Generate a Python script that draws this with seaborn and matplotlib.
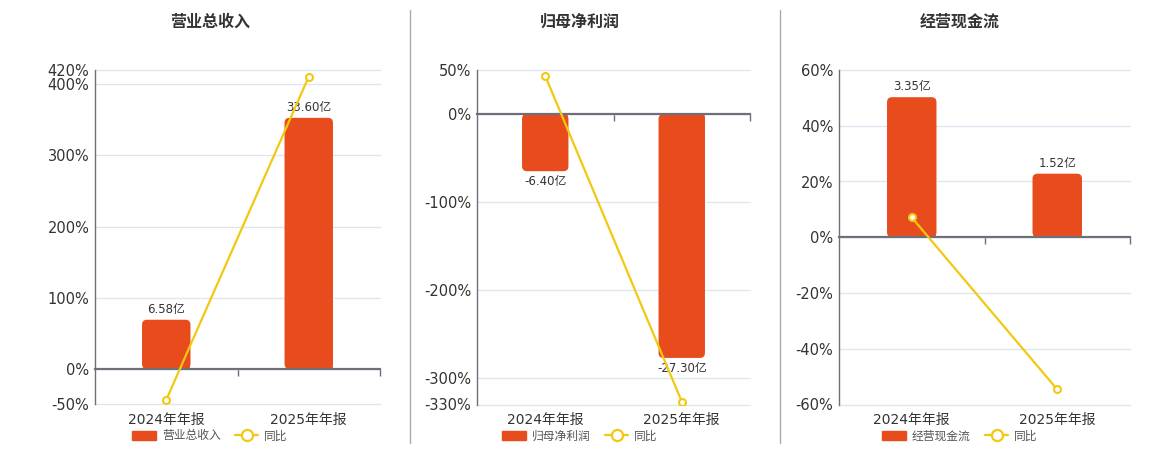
import numpy as np
import seaborn as sns
import matplotlib
matplotlib.use("Agg")
import matplotlib.pyplot as plt
from matplotlib.lines import Line2D
from matplotlib.patches import Patch, FancyBboxPatch
from matplotlib.ticker import FuncFormatter

periods = ["2024年年报", "2025年年报"]

revenue = [6.58, 33.60]          # 亿
revenue_yoy = [-43.5, 410.6]     # %
profit = [-6.40, -27.30]
profit_yoy = [43.2, -326.6]
cashflow = [3.35, 1.52]
cashflow_yoy = [7.1, -54.6]

titles = ["营业总收入", "归母净利润", "经营现金流"]

BAR = "#E84C1D"
LINE = "#F2C811"
AXIS = "#6E7079"
GRID = "#E0E6F1"
TXT = "#333333"

sns.set_theme(style="white")
plt.rcParams["font.family"] = ["DejaVu Sans", "Noto Sans CJK SC"]

fig = plt.figure(figsize=(11.6, 4.5), dpi=100)

# panel layout in pixels: (left, right, title/legend centre), y-limits, ticks, %-per-亿
panels = [
    dict(vals=revenue, yoy=revenue_yoy, box=(95, 380, 210), lim=(-50, 420),
         ticks=[-50, 0, 100, 200, 300, 400, 420], k=10.5),
    dict(vals=profit, yoy=profit_yoy, box=(477, 750, 580), lim=(-330, 50),
         ticks=[-330, -300, -200, -100, 0, 50], k=10.15),
    dict(vals=cashflow, yoy=cashflow_yoy, box=(839, 1130, 960), lim=(-60, 60),
         ticks=[-60, -40, -20, 0, 20, 40, 60], k=15.0),
]

W, H = 1160, 450
top_px, bot_px = 70, 404.5
radius_px = 5

for title, p in zip(titles, panels):
    l, r, c = p["box"]
    ax_bar = fig.add_axes([l / W, 1 - bot_px / H, (r - l) / W, (bot_px - top_px) / H])
    k = p["k"]
    lo, hi = p["lim"]

    sns.barplot(x=periods, y=p["vals"], ax=ax_bar, color=BAR, saturation=1,
                width=0.34, errorbar=None, zorder=3)
    ax_bar.set_ylim(lo / k, hi / k)
    ax_bar.set_xlim(-0.5, 1.5)
    ax_bar.set_yticks([t / k for t in p["ticks"]])
    ax_bar.yaxis.grid(True, color=GRID, lw=1)
    for gl in ax_bar.get_ygridlines():
        gl.set_clip_on(False)
    ax_bar.tick_params(axis="y", length=0, labelleft=False)
    ax_bar.bar_label(ax_bar.containers[0], labels=[f"{v:.2f}亿" for v in p["vals"]],
                     padding=3, fontsize=8.5, color=TXT)

    # rounded ends away from the zero line
    xpu = (r - l) / 2.0
    ypu = (bot_px - top_px) / ((hi - lo) / k)
    for rect in list(ax_bar.patches):
        x0, y0, w, h = rect.get_x(), rect.get_y(), rect.get_width(), rect.get_height()
        rb = FancyBboxPatch((x0, min(y0, y0 + h)), w, abs(h),
                            boxstyle=f"round,pad=0,rounding_size={radius_px / xpu}",
                            mutation_aspect=xpu / ypu, facecolor=BAR, edgecolor="none",
                            zorder=3)
        ax_bar.add_patch(rb)
        rect.set_height(h / 2)

    for s in ["left", "top", "right"]:
        ax_bar.spines[s].set_visible(False)
    ax_bar.spines["bottom"].set_position(("data", 0))
    ax_bar.spines["bottom"].set_color(AXIS)
    ax_bar.spines["bottom"].set_linewidth(1.6)
    ax_bar.spines["bottom"].set_zorder(4)
    ax_bar.set_xticks([0.5, 1.5], minor=True)
    ax_bar.tick_params(axis="x", which="major", length=0, labelbottom=False)
    ax_bar.tick_params(axis="x", which="minor", bottom=True, length=5, width=1, color=AXIS, direction="out")
    ax_bar.set_xlabel("")

    ax_line = ax_bar.twinx()
    sns.lineplot(x=np.arange(len(periods)), y=p["yoy"], ax=ax_line, color=LINE, lw=1.6,
                 marker="o", markersize=5, markerfacecolor="white", markeredgecolor=LINE,
                 markeredgewidth=1.5, sort=False, legend=False)
    ax_line.set_ylim(lo, hi)
    ax_line.set_xlim(-0.5, 1.5)
    ax_line.set_yticks(p["ticks"])
    ax_line.yaxis.tick_left()
    ax_line.yaxis.set_major_formatter(FuncFormatter(lambda v, _: f"{v:g}%"))
    ax_line.tick_params(axis="y", length=0, labelsize=10.5, labelcolor=TXT, pad=4)
    ax_line.xaxis.set_visible(True)
    ax_line.tick_params(axis="x", which="major", length=0, labelbottom=True,
                        labelsize=10, labelcolor=TXT, pad=6)
    ax_line.tick_params(axis="x", which="minor", length=0)
    for s in ["top", "right", "bottom"]:
        ax_line.spines[s].set_visible(False)
    ax_line.spines["left"].set_color(AXIS)
    ax_line.spines["left"].set_linewidth(1)
    ax_line.set_ylabel("")

    fig.text(c / W, 1 - 22 / H, title, ha="center", va="center", fontsize=11.5,
             fontweight="bold", color=TXT)

    handles = [Patch(facecolor=BAR, edgecolor=BAR),
               Line2D([], [], color=LINE, lw=1.6, marker="o", markersize=8,
                      markerfacecolor="white", markeredgecolor=LINE, markeredgewidth=1.6)]
    ax_line.legend(handles, [title, "同比"], loc="center", ncol=2, frameon=False,
                   bbox_to_anchor=(c / W, 1 - 436 / H), bbox_transform=fig.transFigure,
                   fontsize=8.5, handlelength=2.0, handleheight=0.9, handletextpad=0.5,
                   columnspacing=1.2, labelcolor="#555555")

# separators between the three panels
for x in [410, 780]:
    fig.add_artist(Line2D([x / W, x / W], [1 - 443 / H, 1 - 10 / H], color="#AAAAAA", lw=1))

fig.savefig("out.png", dpi=100, facecolor="white")
